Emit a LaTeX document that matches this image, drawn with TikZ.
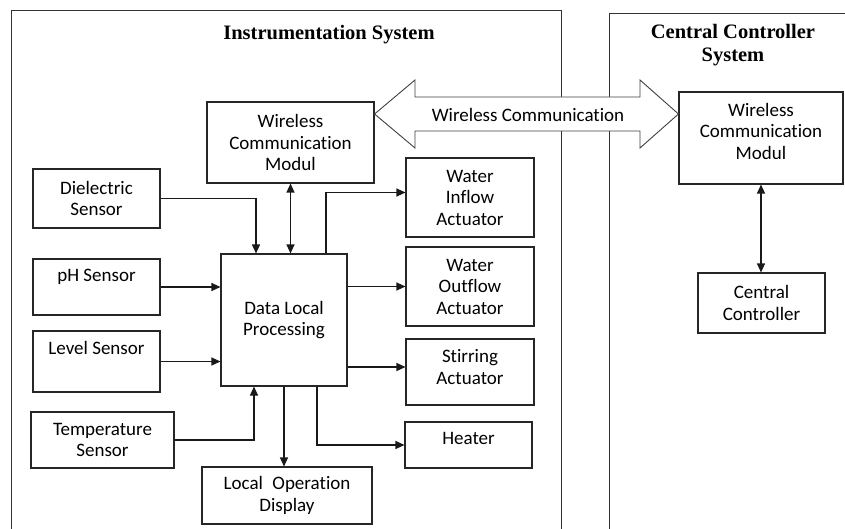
\documentclass[tikz,border=0pt]{standalone}
\usepackage{fontspec}
\setmainfont{Liberation Serif}
\newfontfamily\boxfont[Ligatures=NoCommon]{Carlito}
\usetikzlibrary{arrows.meta,calc}
\begin{document}
\begin{tikzpicture}[x=1pt,y=-1pt,
  >={Triangle[length=9pt,width=8pt]},
  frame/.style={draw=black!80, line width=0.9pt},
  box/.style={draw=black!85, line width=1.1pt, fill=white, inner sep=0pt, align=center,
              font=\boxfont\fontsize{19}{21.5}\selectfont},
  lbl/.style={inner sep=0pt, align=center, font=\boxfont\fontsize{19}{21.5}\selectfont},
  sz/.style 2 args={minimum width=#1pt, minimum height=#2pt},
  title/.style={align=center, font=\bfseries\fontsize{20.5}{23}\selectfont},
  conn/.style={draw=black!90, line width=1.1pt, ->},
  conn2/.style={draw=black!90, line width=1.1pt, <->},
]
\clip (0,0) rectangle (845,529);

% system frames (open at the bottom)
\draw[frame] (11,545) -- (11,10) -- (561,10) -- (561,545);
\draw[frame] (609,545) -- (609,13) -- (860,13);

% titles
\node[title] (t1) at (329,35) {Instrumentation System};
\node[title] (t2) at (733,45) {Central Controller\\System};

% instrumentation side
\node[box, sz={167}{81}] (wcmL) at (290.5,142.5) {Wireless\\Communication\\Modul};
\node[box, sz={127}{59}] (diel) at (96.5,198.5) {Dielectric\\Sensor};
\node[box, sz={127}{56}, label={[lbl,yshift=10pt]center:pH Sensor}] (ph) at (96.5,287) {};
\node[box, sz={127}{61}, label={[lbl,yshift=14pt]center:Level Sensor}] (level) at (96.5,361.5) {};
\node[box, sz={143}{56}] (temp) at (102.5,440) {Temperature\\Sensor};
\node[box, sz={126}{132}] (dlp) at (284,320) {Data Local\\Processing};
\node[box, sz={170}{57}] (lod) at (287,495.5) {Local\hspace{0.5em}Operation\\Display};
\node[box, sz={128}{79}] (inflow) at (470,197.5) {Water\\Inflow\\Actuator};
\node[box, sz={128}{79}] (outflow) at (470,286.5) {Water\\Outflow\\Actuator};
\node[box, sz={128}{66}, label={[lbl,yshift=5pt]center:Stirring\\Actuator}] (stir) at (470,372) {};
\node[box, sz={127}{46}, label={[lbl,yshift=7pt]center:Heater}] (heater) at (468.5,445) {};

% central controller side
\node[box, sz={164}{92}, label={[lbl,yshift=7pt]center:Wireless\\Communication\\Modul}] (wcmR) at (761,138) {};
\node[box, sz={127}{60}] (cc) at (761.5,303) {Central\\Controller};

% wireless link (hollow double arrow)
\draw[line width=0.9pt, draw=black!75, fill=white]
  (wcmL.east |- 0,114) -- (415,80) -- (415,97) -- (640,97) -- (640,80)
  -- (wcmR.west |- 0,114) -- (640,148) -- (640,131) -- (415,131) -- (415,148) -- cycle;
\node[lbl] (wc) at (528,115) {Wireless Communication};

% connectors
\draw[conn] (diel.east) -| ([xshift=-28pt]dlp.north);
\draw[conn2] (wcmL.south) -- (wcmL.south |- dlp.north);
\draw[conn] ([xshift=42pt]dlp.north) |- ([yshift=5pt]inflow.west);
\draw[conn] (ph.east) -- (ph.east -| dlp.west);
\draw[conn] (level.east) -- (level.east -| dlp.west);
\draw[conn] (temp.east) -| ([xshift=-30pt]dlp.south);
\draw[conn] (dlp.south) -- (dlp.south |- lod.north);
\draw[conn] (outflow.west -| dlp.east) -- (outflow.west);
\coordinate (stirIn) at ([yshift=5pt]stir.west);
\draw[conn] (stirIn -| dlp.east) -- (stirIn);
\draw[conn] ([xshift=33pt]dlp.south) |- (heater.west);
\draw[conn2] (wcmR.south) -- (wcmR.south |- cc.north);
\end{tikzpicture}
\end{document}
